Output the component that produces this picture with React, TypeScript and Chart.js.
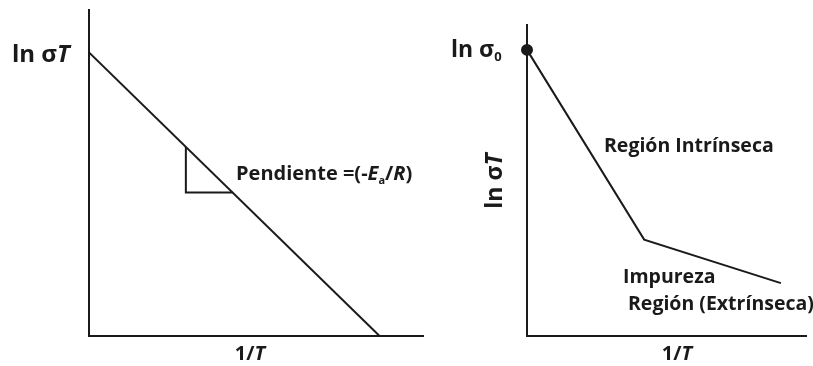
import React, { useEffect, useRef } from "react";
import { Chart, registerables } from "chart.js";

Chart.register(...registerables);

// Left panel: single Arrhenius line and slope triangle (x = 1/T, y = ln σT)
const arrheniusLine = [
  { x: 0, y: 87 },
  { x: 87, y: 0 },
];
const slopeTriangle = [
  { x: 29, y: 58 },
  { x: 29, y: 44 },
  { x: 43, y: 44 },
];

// Right panel: intrinsic and extrinsic regions
const conductivityCurve = [
  { x: 0, y: 92 },
  { x: 42, y: 31 },
  { x: 91, y: 17 },
];
const curvePointRadius = [5, 0, 0];

const FONT = '"Open Sans", "DejaVu Sans", sans-serif';
const INK = "#1a1a1a";

type Run = { t: string; italic?: boolean; sub?: boolean };

// Draws a sequence of text runs (upright / italic / subscript) on one baseline.
function drawRuns(
  ctx: CanvasRenderingContext2D,
  runs: Run[],
  x: number,
  y: number,
  size: number,
  align: "left" | "center" = "left"
) {
  const fontFor = (r: Run) =>
    `${r.italic ? "italic " : ""}bold ${r.sub ? Math.round(size * 0.55) : size}px ${FONT}`;
  let total = 0;
  for (const r of runs) {
    ctx.font = fontFor(r);
    total += ctx.measureText(r.t).width;
  }
  let cx = align === "center" ? x - total / 2 : x;
  ctx.textBaseline = "alphabetic";
  ctx.textAlign = "left";
  ctx.fillStyle = INK;
  for (const r of runs) {
    ctx.font = fontFor(r);
    ctx.fillText(r.t, cx, r.sub ? y + size * 0.18 : y);
    cx += ctx.measureText(r.t).width;
  }
}

const axisScales = (xmax: number, ymax: number) => ({
  x: {
    type: "linear" as const,
    min: 0,
    max: xmax,
    grid: { display: false, drawTicks: false },
    ticks: { display: false },
    border: { display: true, color: INK, width: 2 },
  },
  y: {
    type: "linear" as const,
    min: 0,
    max: ymax,
    grid: { display: false, drawTicks: false },
    ticks: { display: false },
    border: { display: true, color: INK, width: 2 },
  },
});

function LeftPanel() {
  const ref = useRef<HTMLCanvasElement>(null);
  useEffect(() => {
    const labels = {
      id: "leftLabels",
      afterDraw(chart: Chart) {
        const ctx = chart.ctx;
        ctx.save();
        drawRuns(ctx, [{ t: "ln σ" }, { t: "T", italic: true }], 12, 62, 24);
        drawRuns(
          ctx,
          [
            { t: "Pendiente =(-" },
            { t: "E", italic: true },
            { t: "a", sub: true },
            { t: "/" },
            { t: "R", italic: true },
            { t: ")" },
          ],
          236,
          180,
          20
        );
        drawRuns(ctx, [{ t: "1/" }, { t: "T", italic: true }], 250, 360, 20, "center");
        ctx.restore();
      },
    };
    const chart = new Chart(ref.current!, {
      type: "scatter",
      data: {
        datasets: [
          {
            data: arrheniusLine,
            showLine: true,
            borderColor: INK,
            borderWidth: 2,
            pointRadius: 0,
          },
          {
            data: slopeTriangle,
            showLine: true,
            borderColor: INK,
            borderWidth: 2,
            pointRadius: 0,
          },
        ],
      },
      options: {
        animation: false,
        responsive: false,
        layout: { padding: { left: 89, right: 17, top: 10, bottom: 30 } },
        plugins: { legend: { display: false }, tooltip: { enabled: false } },
        scales: axisScales(100, 100),
      },
      plugins: [labels],
    });
    return () => chart.destroy();
  }, []);
  return (
    <canvas
      ref={ref}
      width={440}
      height={366}
      style={{ position: "absolute", left: 0, top: 0, width: 440, height: 366 }}
    />
  );
}

function RightPanel() {
  const ref = useRef<HTMLCanvasElement>(null);
  useEffect(() => {
    const labels = {
      id: "rightLabels",
      afterDraw(chart: Chart) {
        const ctx = chart.ctx;
        ctx.save();
        drawRuns(ctx, [{ t: "ln σ" }, { t: "0", sub: true }], 11, 57, 23);
        drawRuns(ctx, [{ t: "Región Intrínseca" }], 164, 152, 19.5);
        drawRuns(ctx, [{ t: "Impureza" }], 183, 283, 19.5);
        drawRuns(ctx, [{ t: "Región (Extrínseca)" }], 188, 310, 19.5);
        drawRuns(ctx, [{ t: "1/" }, { t: "T", italic: true }], 237, 360, 20, "center");
        ctx.translate(62, 181);
        ctx.rotate(-Math.PI / 2);
        drawRuns(ctx, [{ t: "ln σ" }, { t: "T", italic: true }], 0, 0, 23, "center");
        ctx.restore();
      },
    };
    const chart = new Chart(ref.current!, {
      type: "line",
      data: {
        datasets: [
          {
            data: conductivityCurve,
            borderColor: INK,
            borderWidth: 2,
            pointRadius: curvePointRadius,
            pointBackgroundColor: INK,
            pointBorderColor: INK,
            clip: false,
          },
        ],
      },
      options: {
        animation: false,
        responsive: false,
        layout: { padding: { left: 87, right: 0, top: 25, bottom: 30 } },
        plugins: { legend: { display: false }, tooltip: { enabled: false } },
        scales: axisScales(100, 100),
      },
      plugins: [labels],
    });
    return () => chart.destroy();
  }, []);
  return (
    <canvas
      ref={ref}
      width={373}
      height={366}
      style={{ position: "absolute", left: 440, top: 0, width: 373, height: 366 }}
    />
  );
}

export default function App() {
  return (
    <div
      style={{
        position: "fixed",
        left: 0,
        top: 0,
        width: 813,
        height: 366,
        background: "#fff",
      }}
    >
      <LeftPanel />
      <RightPanel />
    </div>
  );
}
